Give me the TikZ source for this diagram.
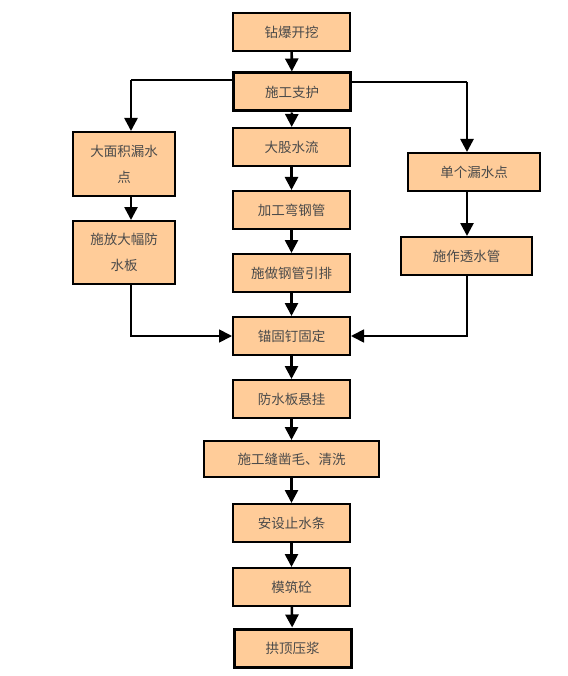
\documentclass[tikz,border=0pt]{standalone}
\usepackage{fontspec}
\newfontfamily\cjk{Noto Sans CJK SC}
\usetikzlibrary{arrows.meta}
\definecolor{boxfill}{HTML}{FFCC99}
\definecolor{boxtext}{HTML}{4A4A4A}
\tikzset{
	stepbox/.style={draw=black, line width=2pt, fill=boxfill, text=boxtext,
		minimum width=117pt, minimum height=38pt, inner sep=0pt, align=center,
		font=\cjk\fontsize{13.5}{26}\selectfont},
	keybox/.style={stepbox, line width=3pt},
	flow/.style={line width=2.6pt, -{Triangle[length=13pt,width=13pt]}},
	branch/.style={line width=1.8pt}
}
\begin{document}
\begin{tikzpicture}[x=1pt, y=-1pt]
			\useasboundingbox (0,0) rectangle (567,676);

			% main column
			\node [stepbox] (zuanbao) at (291.5,32) {钻爆开挖};
			\node [keybox] (zhihu) at (292,92) {施工支护};
			\node [stepbox] (dagu) at (291.5,147) {大股水流};
			\node [stepbox] (wanguan) at (291.5,210) {加工弯钢管};
			\node [stepbox] (yinpai) at (291.5,273) {施做钢管引排};
			\node [stepbox] (maoding) at (291.5,336) {锚固钉固定};
			\node [stepbox] (xuangua) at (291.5,399) {防水板悬挂};
			\node [stepbox, minimum width=175pt, minimum height=36pt] (zaomao) at (291.5,459) {施工缝凿毛、清洗};
			\node [stepbox] (zhishui) at (291.5,523) {安设止水条};
			\node [stepbox] (mozhu) at (291.5,587) {模筑砼};
			\node [keybox] (yajiang) at (292.5,648) {拱顶压浆};

			% left branch
			\node [stepbox, minimum width=102pt, minimum height=64pt] (damian) at (124,164) {大面积漏水\\点};
			\node [stepbox, minimum width=102pt, minimum height=63pt] (fangshui) at (124,252.5) {施放大幅防\\水板};

			% right branch
			\node [stepbox, minimum width=132pt] (dange) at (474,172) {单个漏水点};
			\node [stepbox, minimum width=131pt] (toushui) at (466.5,256) {施作透水管};

			\coordinate (lsplit) at (131,80);
			\coordinate (rsplit) at (467,82);

			\draw [flow] (zuanbao) -- (zhihu);
			\draw [flow] (zhihu) -- (dagu);
			\draw [flow] (dagu) -- (wanguan);
			\draw [flow] (wanguan) -- (yinpai);
			\draw [flow] (yinpai) -- (maoding);
			\draw [flow] (maoding) -- (xuangua);
			\draw [flow] (xuangua) -- (zaomao);
			\draw [flow] (zaomao) -- (zhishui);
			\draw [flow] (zhishui) -- (mozhu);
			\draw [flow] (mozhu) -- (yajiang);

			\draw [branch] (zhihu.west |- lsplit) -- (lsplit);
			\draw [flow] (lsplit) -- (lsplit |- damian.north);
			\draw [flow] (damian.south -| lsplit) -- (fangshui.north -| lsplit);
			\draw [branch, -{Triangle[length=13pt,width=13pt]}] (fangshui.south -| lsplit) |- (maoding.west);

			\draw [branch] (zhihu.east |- rsplit) -- (rsplit);
			\draw [flow] (rsplit) -- (rsplit |- dange.north);
			\draw [flow] (dange.south -| rsplit) -- (toushui.north -| rsplit);
			\draw [branch, -{Triangle[length=13pt,width=13pt]}] (toushui.south -| rsplit) |- (maoding.east);
		\end{tikzpicture}
\end{document}
